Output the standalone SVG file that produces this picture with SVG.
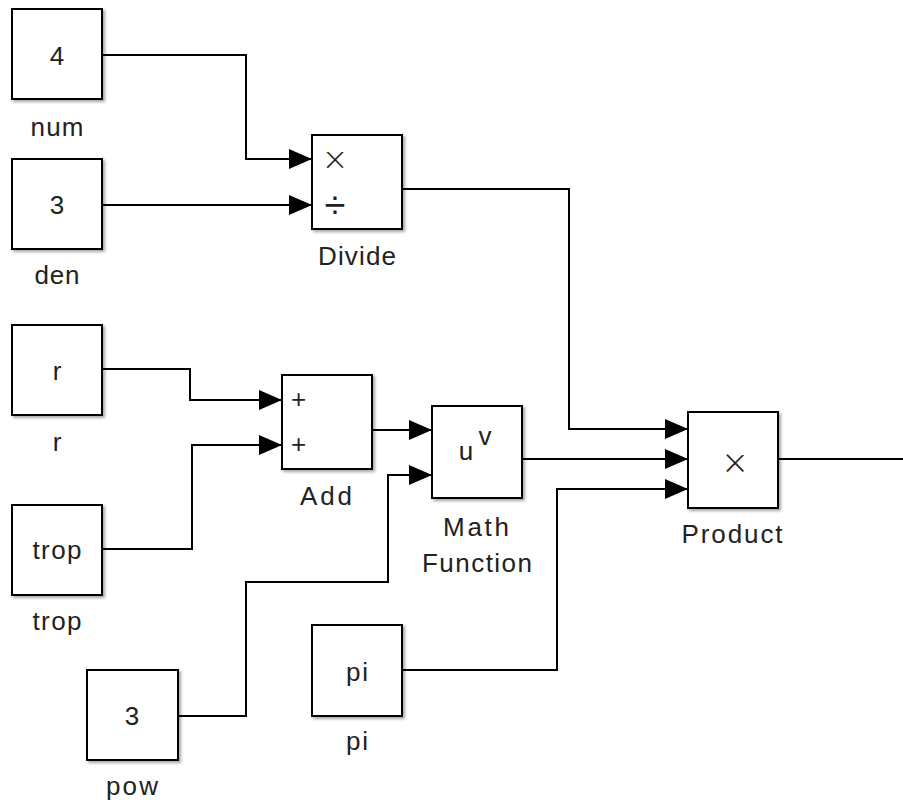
<svg xmlns="http://www.w3.org/2000/svg" width="903" height="805" viewBox="0 0 903 805">
<style>
.blk{fill:#fff;stroke:#000;stroke-width:2;filter:url(#sh)}
.t{font-family:"Liberation Sans",Arial,sans-serif;font-size:26px;fill:#222;text-anchor:middle}
.c{fill:none;stroke:#000;stroke-width:2;marker-end:url(#ah)}
.n{fill:none;stroke:#000;stroke-width:2}
.sym{font-family:"Liberation Sans",Arial,sans-serif;fill:#222;text-anchor:middle}
.thin{stroke:#fff;stroke-width:1.2}
</style>
<defs>
<filter id="sh" x="-10%" y="-10%" width="130%" height="130%">
<feDropShadow dx="2" dy="2" stdDeviation="1.5" flood-color="#000" flood-opacity="0.35"/>
</filter>
<marker id="ah" markerUnits="userSpaceOnUse" markerWidth="23" markerHeight="20" refX="23" refY="10" orient="auto">
<path d="M0,0 L23,10 L0,20 Z" fill="#000"/>
</marker>
</defs>
<g id="connectors">
<path class="c" d="M102,55 H246 V159 H312"/>
<path class="c" d="M102,205 H312"/>
<path class="c" d="M402,189 H569 V429 H688"/>
<path class="c" d="M102,369 H190 V400 H282"/>
<path class="c" d="M102,549 H192 V445 H282"/>
<path class="c" d="M372,430 H432"/>
<path class="c" d="M178,716 H246 V582 H388 V475 H432"/>
<path class="c" d="M522,459 H688"/>
<path class="c" d="M402,670 H557 V489 H688"/>
<path class="n" d="M778,459 H903"/>
</g>
<g id="num">
<rect class="blk" x="12" y="9" width="90" height="90"/>
<text class="t" x="57" y="65">4</text>
<text class="t" x="57" y="136" textLength="53" lengthAdjust="spacing">num</text>
</g>
<g id="den">
<rect class="blk" x="12" y="159" width="90" height="90"/>
<text class="t" x="57" y="214">3</text>
<text class="t" x="57" y="284" textLength="45" lengthAdjust="spacing">den</text>
</g>
<g id="divide">
<rect class="blk" x="312" y="135" width="90" height="94"/>
<text class="sym"><tspan class="thin" x="335" y="174" font-size="42">×</tspan><tspan x="335" y="218" font-size="38">÷</tspan></text>
<text class="t" x="357" y="265" textLength="78" lengthAdjust="spacing">Divide</text>
</g>
<g id="r">
<rect class="blk" x="12" y="325" width="90" height="90"/>
<text class="t" x="57" y="380">r</text>
<text class="t" x="57" y="451">r</text>
</g>
<g id="trop">
<rect class="blk" x="12" y="505" width="90" height="90"/>
<text class="t" x="57" y="559" textLength="49" lengthAdjust="spacing">trop</text>
<text class="t" x="57" y="630" textLength="49" lengthAdjust="spacing">trop</text>
</g>
<g id="add">
<rect class="blk" x="282" y="375" width="90" height="94"/>
<text class="t" x="298.5" y="408" font-size="17">+</text>
<text class="t" x="298.5" y="453" font-size="17">+</text>
<text class="t" x="326" y="505" textLength="52" lengthAdjust="spacing">Add</text>
</g>
<g id="math-function">
<rect class="blk" x="432" y="406" width="90" height="92"/>
<text class="t" x="466" y="460">u</text>
<text class="t" x="485" y="445" font-size="20">v</text>
<text class="t" x="476" y="536" textLength="66" lengthAdjust="spacing">Math</text>
<text class="t" x="477" y="572" textLength="110" lengthAdjust="spacing">Function</text>
</g>
<g id="product">
<rect class="blk" x="688" y="412" width="90" height="96"/>
<text class="sym thin" x="735" y="478" font-size="44">×</text>
<text class="t" x="732" y="543" textLength="101" lengthAdjust="spacing">Product</text>
</g>
<g id="pow">
<rect class="blk" x="87" y="670" width="91" height="90"/>
<text class="t" x="132" y="725">3</text>
<text class="t" x="132" y="795" textLength="52" lengthAdjust="spacing">pow</text>
</g>
<g id="pi">
<rect class="blk" x="312" y="625" width="90" height="91"/>
<text class="t" x="357" y="681" textLength="22" lengthAdjust="spacing">pi</text>
<text class="t" x="357" y="750" textLength="22" lengthAdjust="spacing">pi</text>
</g>
</svg>
